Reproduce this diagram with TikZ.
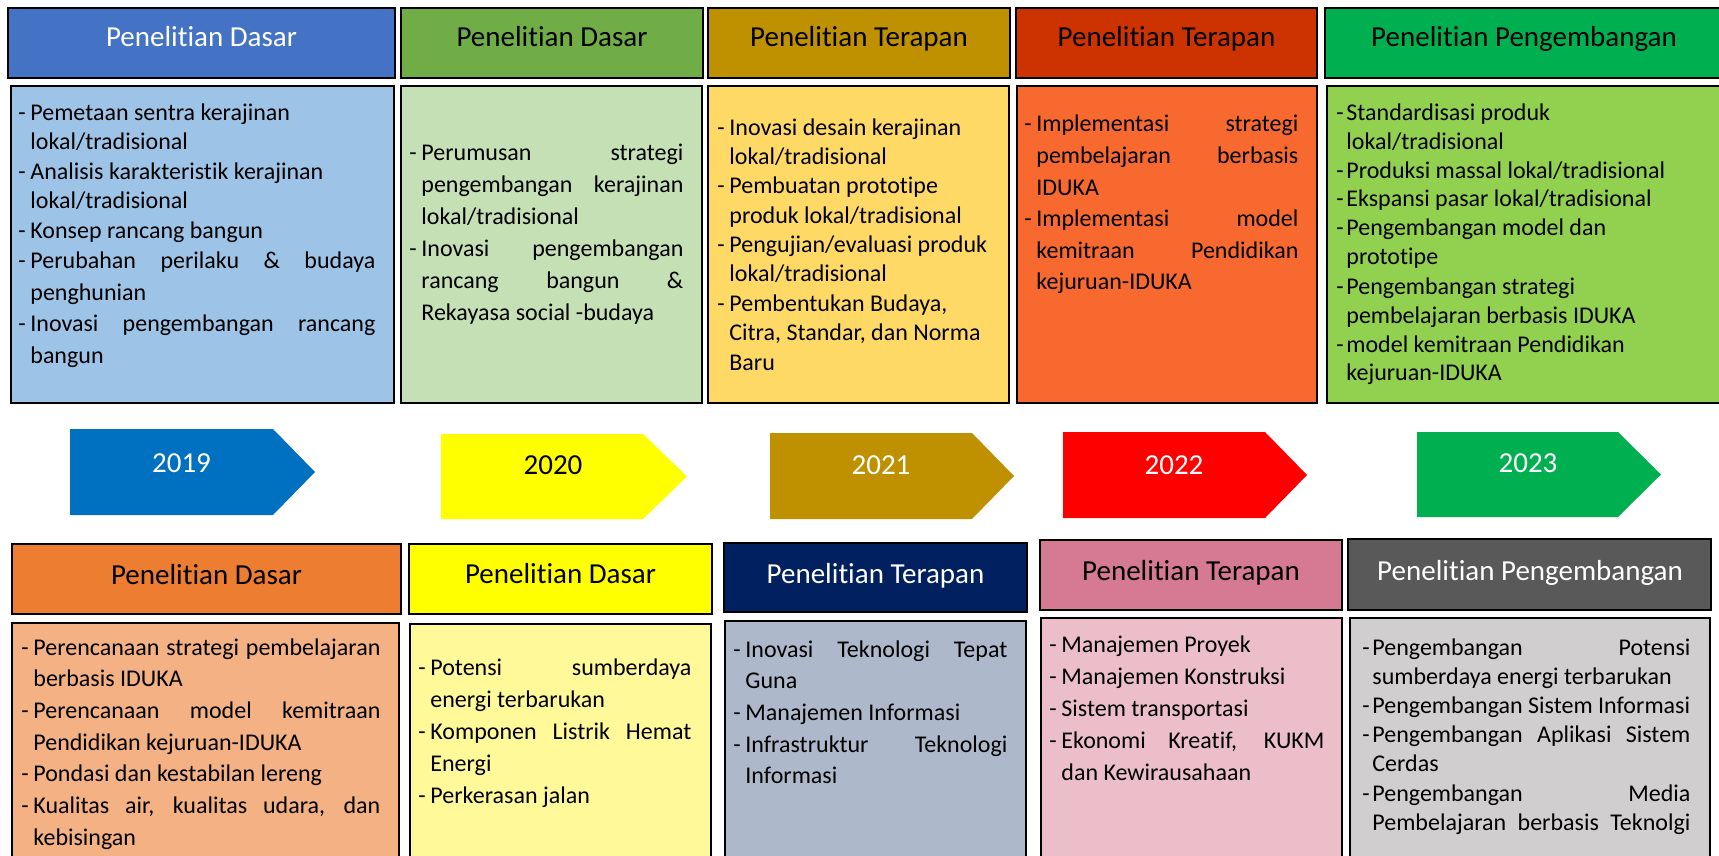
\documentclass[tikz,border=0pt]{standalone}
\usepackage{fontspec}
\setmainfont{Carlito}[Ligatures={NoCommon}]
\definecolor{th1}{HTML}{4472C4}\definecolor{th2}{HTML}{70AD47}\definecolor{th3}{HTML}{BF9000}
\definecolor{th4}{HTML}{CC3300}\definecolor{th5}{HTML}{00B050}
\definecolor{tb1}{HTML}{9DC3E6}\definecolor{tb2}{HTML}{C5E0B4}\definecolor{tb3}{HTML}{FFD966}
\definecolor{tb4}{HTML}{F8692F}\definecolor{tb5}{HTML}{92D050}
\definecolor{bh1}{HTML}{ED7D31}\definecolor{bh2}{HTML}{FFFF00}\definecolor{bh3}{HTML}{002060}
\definecolor{bh4}{HTML}{D67A93}\definecolor{bh5}{HTML}{595959}
\definecolor{bb1}{HTML}{F4B183}\definecolor{bb2}{HTML}{FFF999}\definecolor{bb3}{HTML}{ADB9CA}
\definecolor{bb4}{HTML}{EBBECA}\definecolor{bb5}{HTML}{D0CECE}
\definecolor{a1}{HTML}{0070C0}\definecolor{a2}{HTML}{FFFF00}\definecolor{a3}{HTML}{BF9000}
\definecolor{a4}{HTML}{FF0000}\definecolor{a5}{HTML}{00B050}
\newlength\dashw
\newcommand\itL[1]{\noindent\makebox[\dashw][l]{-}\mbox{#1}\par}
\newcommand\coL[1]{\noindent\hspace*{\dashw}\mbox{#1}\par}
\newcommand\itJ[1]{\noindent\makebox[\dashw][l]{-}\hbox to \dimexpr\linewidth-\dashw\relax{\spaceskip=\fontdimen2\font plus 1fil\relax #1}\par}
\newcommand\coJ[1]{\noindent\hspace*{\dashw}\hbox to \dimexpr\linewidth-\dashw\relax{\spaceskip=\fontdimen2\font plus 1fil\relax #1}\par}
\newcommand\bodytext[4]{\begin{minipage}[t]{#1}\fontsize{12pt}{#2}\selectfont\setlength\dashw{#3}\parindent=0pt\parskip=0pt #4\end{minipage}}
\tikzset{
  bx/.style={draw=black, line width=1.25pt},
  ht/.style={anchor=base, inner sep=0pt, font=\fontsize{14.5pt}{17pt}\selectfont},
  bt/.style={anchor=base west, inner sep=0pt},
}
\begin{document}
\begin{tikzpicture}[x=0.5pt,y=-0.5pt]
\useasboundingbox (0,0) rectangle (1719,856);
\fill[white] (0,0) rectangle (1719,856);
\clip (0,0) rectangle (1719,856);
% top headers
\path[bx,fill=th1] (8,8) rectangle (395,78);
\path[bx,fill=th2] (401,8) rectangle (703,78);
\path[bx,fill=th3] (708,8) rectangle (1010,78);
\path[bx,fill=th4] (1016,8) rectangle (1317,78);
\path[bx,fill=th5] (1325,8) rectangle (1725,78);
\node[ht,text=white] (th1t) at (201.5,47) {Penelitian Dasar};
\node[ht] (th2t) at (552,47) {Penelitian Dasar};
\node[ht] (th3t) at (859,47) {Penelitian Terapan};
\node[ht] (th4t) at (1166.5,47) {Penelitian Terapan};
\node[ht] (th5t) at (1524,47) {Penelitian Pengembangan};
% top bodies
\path[bx,fill=tb1] (11,86) rectangle (394,403);
\path[bx,fill=tb2] (401,86) rectangle (702,403);
\path[bx,fill=tb3] (708,86) rectangle (1009,403);
\path[bx,fill=tb4] (1017,86) rectangle (1317,403);
\path[bx,fill=tb5] (1327,86) rectangle (1725,403);
\node[bt] (tb1t) at (18,120) {\bodytext{178.5pt}{14.75pt}{6pt}{%
\itL{Pemetaan sentra kerajinan}
\coL{lokal/tradisional}
\itL{Analisis karakteristik kerajinan}
\coL{lokal/tradisional}
\itL{Konsep rancang bangun}
\setlength\baselineskip{15pt}
\itJ{Perubahan perilaku \& budaya}
\setlength\baselineskip{16pt}
\coL{penghunian}
\itJ{Inovasi pengembangan rancang}
\coL{bangun}}};
\node[bt] (tb2t) at (409,161) {\bodytext{137pt}{16pt}{6pt}{%
\itJ{Perumusan strategi}
\coJ{pengembangan kerajinan}
\coL{lokal/tradisional}
\itJ{Inovasi pengembangan}
\coJ{rancang bangun \&}
\coL{Rekayasa social -budaya}}};
\node[bt] (tb3t) at (717,135) {\bodytext{150pt}{14.7pt}{6pt}{%
\itL{Inovasi desain kerajinan}
\coL{lokal/tradisional}
\itL{Pembuatan prototipe}
\coL{produk lokal/tradisional}
\itL{Pengujian/evaluasi produk}
\coL{lokal/tradisional}
\itL{Pembentukan Budaya,}
\coL{Citra, Standar, dan Norma}
\coL{Baru}}};
\node[bt] (tb4t) at (1024,132) {\bodytext{137pt}{15.8pt}{6pt}{%
\itJ{Implementasi strategi}
\coJ{pembelajaran berbasis}
\coL{IDUKA}
\itJ{Implementasi model}
\coJ{kemitraan Pendidikan}
\coL{kejuruan-IDUKA}}};
\node[bt] (tb5t) at (1336,120) {\bodytext{185pt}{14.5pt}{5pt}{%
\itL{Standardisasi produk}
\coL{lokal/tradisional}
\itL{Produksi massal lokal/tradisional}
\itL{Ekspansi pasar lokal/tradisional}
\itL{Pengembangan model dan}
\coL{prototipe}
\itL{Pengembangan strategi}
\coL{pembelajaran berbasis IDUKA}
\itL{model kemitraan Pendidikan}
\coL{kejuruan-IDUKA}}};
% year arrows
\fill[a1] (70,429) -- (273,429) -- (315,472) -- (273,515) -- (70,515) -- cycle;
\fill[a2] (441,434) -- (643,434) -- (687,476.5) -- (643,519) -- (441,519) -- cycle;
\fill[a3] (770,433) -- (972,433) -- (1014,476) -- (972,519) -- (770,519) -- cycle;
\fill[a4] (1063,432) -- (1265,432) -- (1307,475) -- (1265,518) -- (1063,518) -- cycle;
\fill[a5] (1417,432) -- (1618,432) -- (1661,474.5) -- (1618,517) -- (1417,517) -- cycle;
\node[ht,text=white] (y2019) at (181.5,472) {2019};
\node[ht] (y2020) at (553,474) {2020};
\node[ht,text=white] (y2021) at (881,474) {2021};
\node[ht,text=white] (y2022) at (1174,474) {2022};
\node[ht,text=white] (y2023) at (1528,472) {2023};
% bottom headers
\path[bx,fill=bh1] (12,544) rectangle (401,614);
\path[bx,fill=bh2] (409,544) rectangle (712,614);
\path[bx,fill=bh3] (724,543) rectangle (1027,612);
\path[bx,fill=bh4] (1040,540) rectangle (1342,610);
\path[bx,fill=bh5] (1348,539) rectangle (1711,610);
\node[ht] (bh1t) at (206.5,584) {Penelitian Dasar};
\node[ht] (bh2t) at (560.5,583) {Penelitian Dasar};
\node[ht,text=white] (bh3t) at (875.5,583) {Penelitian Terapan};
\node[ht] (bh4t) at (1191,580) {Penelitian Terapan};
\node[ht,text=white] (bh5t) at (1530,580) {Penelitian Pengembangan};
% bottom bodies
\path[bx,fill=bb1] (12,623) rectangle (399,880);
\path[bx,fill=bb2] (410,624) rectangle (711,880);
\path[bx,fill=bb3] (725,621) rectangle (1026,880);
\path[bx,fill=bb4] (1041,618) rectangle (1342,880);
\path[bx,fill=bb5] (1350,618) rectangle (1710,880);
\node[bt] (bb1t) at (21,655) {\bodytext{179.5pt}{15.85pt}{6pt}{%
\itJ{Perencanaan strategi pembelajaran}
\coL{berbasis IDUKA}
\itJ{Perencanaan model kemitraan}
\coL{Pendidikan kejuruan-IDUKA}
\itL{Pondasi dan kestabilan lereng}
\itJ{Kualitas air, kualitas udara, dan}
\coL{kebisingan}}};
\node[bt] (bb2t) at (418,675) {\bodytext{136.5pt}{16pt}{6pt}{%
\itJ{Potensi sumberdaya}
\coL{energi terbarukan}
\itJ{Komponen Listrik Hemat}
\coL{Energi}
\itL{Perkerasan jalan}}};
\node[bt] (bb3t) at (733,657) {\bodytext{137pt}{15.85pt}{6pt}{%
\itJ{Inovasi Teknologi Tepat}
\coL{Guna}
\itL{Manajemen Informasi}
\itJ{Infrastruktur Teknologi}
\coL{Informasi}}};
\node[bt] (bb4t) at (1049,652) {\bodytext{137.5pt}{16pt}{6pt}{%
\itL{Manajemen Proyek}
\itL{Manajemen Konstruksi}
\itL{Sistem transportasi}
\itJ{Ekonomi Kreatif, KUKM}
\coL{dan Kewirausahaan}}};
\node[bt] (bb5t) at (1362,655) {\bodytext{164pt}{14.6pt}{5pt}{%
\itJ{Pengembangan Potensi}
\coL{sumberdaya energi terbarukan}
\itL{Pengembangan Sistem Informasi}
\itJ{Pengembangan Aplikasi Sistem}
\coL{Cerdas}
\itJ{Pengembangan Media}
\coJ{Pembelajaran berbasis Teknolgi}}};
\end{tikzpicture}
\end{document}
